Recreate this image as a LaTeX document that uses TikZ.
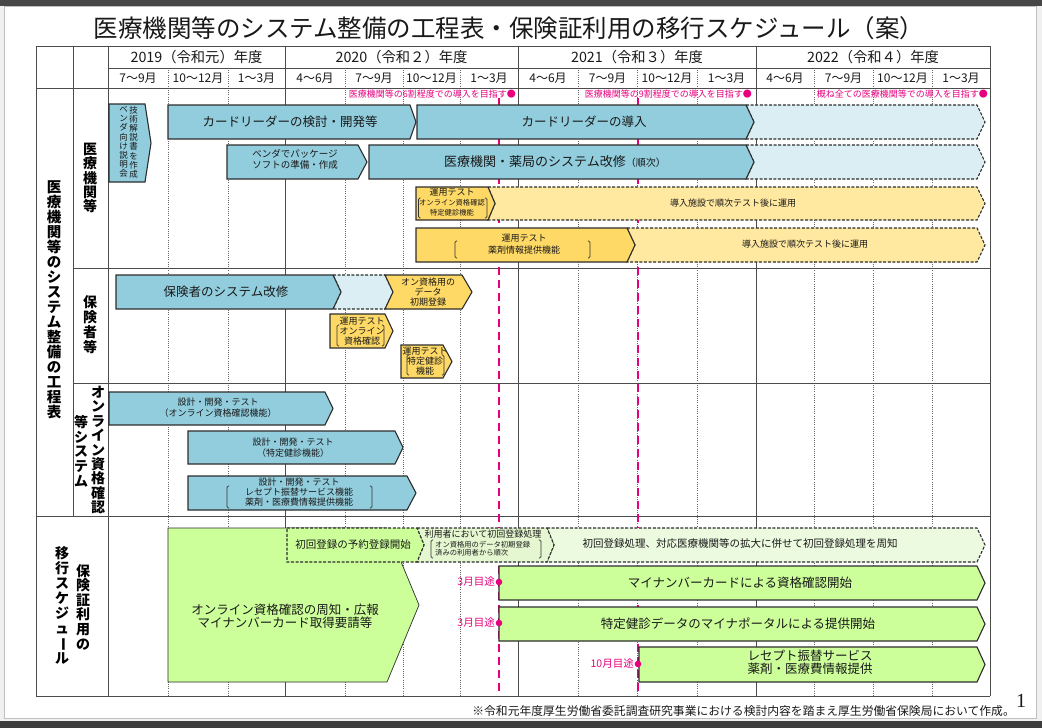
\documentclass[tikz,border=0pt]{standalone}
\usepackage{fontspec}
\setmainfont{Noto Sans CJK JP}
\newfontfamily\numfont{Liberation Serif}
\definecolor{blueA}{RGB}{146,205,221}
\definecolor{blueL}{RGB}{218,238,243}
\definecolor{yelA}{RGB}{255,217,102}
\definecolor{yelL}{RGB}{255,232,160}
\definecolor{grnA}{RGB}{204,255,153}
\definecolor{grnM}{RGB}{228,247,208}
\definecolor{grnL}{RGB}{236,250,224}
\definecolor{pinkc}{RGB}{230,0,126}
\definecolor{boxc}{RGB}{45,45,45}
\definecolor{txt}{RGB}{25,25,25}
\newcommand\fs[2]{\fontsize{#1}{#2}\selectfont}
\newcommand\vbar{\rotatebox[origin=c]{-90}{ー}}
\makeatletter
\newcommand\vtxt[2]{\vbox{\baselineskip=#1pt\lineskiplimit=-1000pt\lineskip=0pt\@tfor\vt@c:=#2\do{\hbox to 1em{\hss\vt@c\hss}}}}
\makeatother
\newcommand\pent[6]{\path[#1] (#2,#5) -- (#3,#5) -- (#4,{(#5+#6)/2}) -- (#3,#6) -- (#2,#6) -- cycle;}
\newcommand\chev[7]{\path[#1] (#2,#6) -- (#4,#6) -- (#5,{(#6+#7)/2}) -- (#4,#7) -- (#2,#7) -- (#3,{(#6+#7)/2}) -- cycle;}
\newcommand\brk[4]{\draw[brkst] ({#1+2.2},#3) -- (#1,#3) -- (#1,#4) -- ({#1+2.2},#4);\draw[brkst] ({#2-2.2},#3) -- (#2,#3) -- (#2,#4) -- ({#2-2.2},#4);}
\begin{document}
\begin{tikzpicture}[x=1pt,y=-1pt,
  box/.style={draw=boxc,line width=1.1pt,line join=miter},
  bluebox/.style={box,fill=blueA},
  bluedash/.style={box,fill=blueL,dash pattern=on 3pt off 1.6pt},
  yelbox/.style={box,fill=yelA},
  yeldash/.style={box,fill=yelL,dash pattern=on 3pt off 1.6pt},
  grnbox/.style={box,fill=grnA},
  grndash/.style={box,dash pattern=on 3pt off 1.6pt},
  gridline/.style={draw=black!70,line width=0.9pt},
  dotline/.style={draw=black!60,line width=0.8pt,dash pattern=on 0.8pt off 1.4pt},
  pinkline/.style={draw=pinkc,line width=2.6pt,dash pattern=on 8pt off 5pt},
  brkst/.style={draw=black!80,line width=0.6pt,rounded corners=1.4pt},
  lbl/.style={inner sep=0pt,align=center,text=txt},
  pinklbl/.style={inner sep=0pt,text=pinkc,font=\fs{9}{10}},
  vlab/.style={inner sep=0pt,text=black,font=\bfseries\fs{14}{14}}]
\useasboundingbox (0,0) rectangle (1042,728);
% frame
\fill[black!6] (0,0) rectangle (1042,728);
\fill[black!72] (0,0) rectangle (1042,6);
\fill[black!76] (0,721) rectangle (1042,728);
\draw[fill=white,draw=black!25,line width=0.8pt] (4,6) rectangle (1036,718);
% grid
\foreach \x in {168,228,345,403,460,578,637,697,814,873,932} \draw[dotline] (\x,68) -- (\x,696);
\foreach \x in {36,108,285,518,756,990} \draw[gridline] (\x,46) -- (\x,696);
\draw[gridline] (73,46) -- (73,516);
\draw[gridline] (36,46) -- (990,46);
\draw[gridline] (108,68) -- (990,68);
\draw[gridline] (36,88) -- (990,88);
\draw[gridline] (73,268) -- (990,268);
\draw[gridline] (73,383) -- (990,383);
\draw[gridline] (36,516) -- (990,516);
\draw[gridline] (36,696) -- (990,696);
% title and header
\node[lbl,font=\fs{24.5}{25}] (title) at (509,28) {医療機関等のシステム整備の工程表・保険証利用の移行スケジュール（案）};
\node[lbl,font=\fs{14.3}{15}] (y2019) at (196.5,57) {2019（令和元）年度};
\node[lbl,font=\fs{14.3}{15}] (y2020) at (401.5,57) {2020（令和２）年度};
\node[lbl,font=\fs{14.3}{15}] (y2021) at (637,57) {2021（令和３）年度};
\node[lbl,font=\fs{14.3}{15}] (y2022) at (873,57) {2022（令和４）年度};
\foreach \c/\m [count=\i] in {138/7～9月,198/10～12月,256.5/1～3月,315/4～6月,374/7～9月,431.5/10～12月,489/1～3月,548/4～6月,607.5/7～9月,667/10～12月,726.5/1～3月,785/4～6月,843.5/7～9月,902.5/10～12月,961/1～3月}
  \node[lbl,font=\fs{12}{12}] (m\i) at (\c,78) {\m};
% pink targets
\node[pinklbl,anchor=east] (g1) at (516,94) {医療機関等の6割程度での導入を目指す●};
\node[pinklbl,anchor=east] (g2) at (752,94) {医療機関等の9割程度での導入を目指す●};
\node[pinklbl,anchor=east] (g3) at (988,94) {概ね全ての医療機関等での導入を目指す●};
\draw[pinkline] (499,98) -- (499,696);
\draw[pinkline] (638,98) -- (638,696);
% row 1
\chev{bluedash}{746}{754}{977}{985}{105}{139}
\chev{bluedash}{746}{754}{977}{985}{145}{179}
\pent{bluebox}{109}{145}{151}{104}{182}
\pent{bluebox}{168}{410}{416}{105}{139}
\pent{bluebox}{417}{746}{754}{105}{139}
\pent{bluebox}{227}{358}{367}{145}{179}
\pent{bluebox}{369}{746}{754}{145}{179}
\chev{yeldash}{488}{495}{977}{985}{187}{220}
\pent{yelbox}{416}{488}{495}{187}{220}
\chev{yeldash}{627}{635}{977}{985}{228}{262}
\pent{yelbox}{416}{627}{635}{228}{262}
\node[lbl,font=\fs{8.5}{9}] (a1r) at (133.5,142) {\vtxt{9.2}{技術解説書を作成}};
\node[lbl,font=\fs{8.5}{9}] (a1l) at (123.5,142) {\vtxt{9.2}{ベンダ向け説明会}};
\node[lbl,font=\fs{12.5}{13}] (a2) at (290,122) {カードリーダーの検討・開発等};
\node[lbl,font=\fs{12.5}{13}] (a3) at (584,122) {カードリーダーの導入};
\node[lbl,font=\fs{9.5}{11}] (a4) at (295,159.5) {ベンダでパッケージ\\ソフトの準備・作成};
\node[lbl,font=\fs{13}{13}] (a5) at (555,162) {医療機関・薬局のシステム改修{\fs{10}{10}（順次）}};
\node[lbl,font=\fs{9}{10}] (y1a) at (452,192.5) {運用テスト};
\node[lbl,font=\fs{7.3}{8}] (y1b) at (452,203) {オンライン資格確認};
\node[lbl,font=\fs{7.3}{8}] (y1c) at (452,213) {特定健診機能};
\brk{418.5}{487}{198}{218}
\node[lbl,font=\fs{9}{10}] (y1t) at (733,203) {導入施設で順次テスト後に運用};
\node[lbl,font=\fs{9}{11.5}] (y2a) at (524,244) {運用テスト\\薬剤情報提供機能};
\brk{455}{590}{241}{258}
\node[lbl,font=\fs{9}{10}] (y2t) at (805,244) {導入施設で順次テスト後に運用};
% row 2
\chev{bluedash}{333}{341}{385}{393}{275}{309}
\pent{bluebox}{116}{333}{341}{275}{309}
\chev{yelbox}{385}{393}{462}{472}{275}{309}
\pent{yelbox}{330}{385}{393}{314}{348}
\pent{yelbox}{401}{443}{452}{345}{378}
\node[lbl,font=\fs{12.5}{13}] (b1) at (226,292) {保険者のシステム改修};
\node[lbl,font=\fs{9}{10}] (b2) at (428,292) {オン資格用の\\データ\\初期登録};
\node[lbl,font=\fs{9}{10}] (b3) at (362,331) {運用テスト\\オンライン\\資格確認};
\brk{337}{384}{325}{346}
\node[lbl,font=\fs{9}{9.7}] (b4) at (425,361) {運用テスト\\特定健診\\機能};
\brk{407}{444}{355}{375}
% row 3
\pent{bluebox}{109}{325}{333}{392}{425}
\pent{bluebox}{188}{395}{403}{431}{464}
\pent{bluebox}{188}{407}{416}{476}{510}
\node[lbl,font=\fs{9}{11}] (c1) at (218,408) {設計・開発・テスト\\（オンライン資格確認機能）};
\node[lbl,font=\fs{9}{11}] (c2) at (293,447.5) {設計・開発・テスト\\（特定健診機能）};
\node[lbl,font=\fs{9}{10}] (c3) at (299,492) {設計・開発・テスト\\レセプト振替サービス機能\\薬剤・医療費情報提供機能};
\brk{227}{372}{486}{508}
% row 4
\pent{grnbox,line width=0.7pt}{168}{387}{419}{528}{682}
\chev{grndash,fill=grnL}{547}{554}{977}{985}{528}{562}
\chev{grndash,fill=grnM}{417}{424}{547}{554}{528}{562}
\pent{grndash,fill=grnA}{287}{417}{424}{528}{562}
\pent{grnbox}{499}{977}{985}{566}{600}
\pent{grnbox}{499}{977}{985}{607}{641}
\pent{grnbox}{639}{977}{985}{647}{682}
\node[lbl,font=\fs{12.5}{13}] (d1) at (285,616) {オンライン資格確認の周知・広報\\マイナンバーカード取得要請等};
\node[lbl,font=\fs{10.5}{11}] (d2) at (353,545) {初回登録の予約登録開始};
\node[lbl,font=\fs{9}{10}] (d3a) at (483,534) {利用者において初回登録処理};
\node[lbl,font=\fs{7.3}{8},anchor=west] (d3b) at (435,545) {オン資格用のデータ初期登録};
\node[lbl,font=\fs{7.3}{8},anchor=west] (d3c) at (435,553) {済みの利用者から順次};
\brk{431}{541}{540}{558}
\node[lbl,font=\fs{10.5}{11}] (d4) at (740,544) {初回登録処理、対応医療機関等の拡大に併せて初回登録処理を周知};
\node[lbl,font=\fs{12.5}{13}] (d5) at (740,583) {マイナンバーカードによる資格確認開始};
\node[lbl,font=\fs{12.5}{13}] (d6) at (738,624) {特定健診データのマイナポータルによる提供開始};
\node[lbl,font=\fs{12.5}{13}] (d7) at (810,662) {レセプト振替サービス\\薬剤・医療費情報提供};
\fill[pinkc] (499,582) circle (3.3pt);
\fill[pinkc] (499,623) circle (3.3pt);
\fill[pinkc] (638,664) circle (3.3pt);
\node[pinklbl,font=\fs{10.5}{11},anchor=east] (t1) at (495,582) {3月目途};
\node[pinklbl,font=\fs{10.5}{11},anchor=east] (t2) at (495,623) {3月目途};
\node[pinklbl,font=\fs{10.5}{11},anchor=east] (t3) at (634,664) {10月目途};
% left labels
\node[vlab,font=\bfseries\fs{14.5}{15}] (L1) at (54,300) {\vtxt{15}{医療機関等のシステム整備の工程表}};
\node[vlab] (L2) at (90,178) {\vtxt{14.3}{医療機関等}};
\node[vlab] (L3) at (90,325) {\vtxt{15}{保険者等}};
\node[vlab] (L4a) at (98,450) {\vtxt{14.4}{オンライン資格確認}};
\node[vlab] (L4b) at (81,451) {\vtxt{14.7}{等システム}};
\node[vlab] (L5a) at (83,607) {\vtxt{14.6}{保険証利用の}};
\node[vlab] (L5b) at (62,605) {\vtxt{15}{移行スケジュ{\vbar}ル}};
% footnote
\node[lbl,font=\fs{11.8}{12},anchor=east] (fn) at (1015,711) {※令和元年度厚生労働省委託調査研究事業における検討内容を踏まえ厚生労働省保険局において作成。};
\node[lbl,font=\numfont\fs{20}{20}] (pg) at (1021,701) {1};
\end{tikzpicture}
\end{document}
